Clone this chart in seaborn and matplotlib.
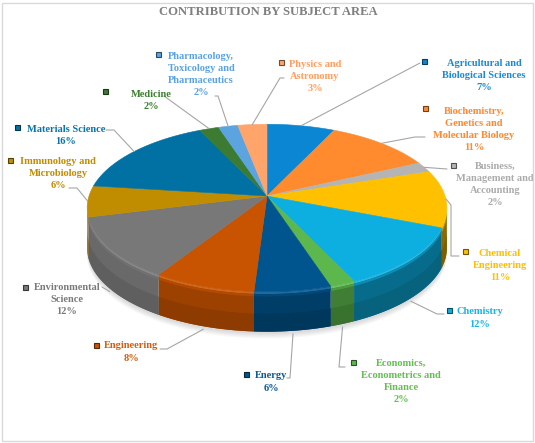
import numpy as np
import matplotlib
matplotlib.use("Agg")
import matplotlib.pyplot as plt
import seaborn as sns
from matplotlib.colors import to_rgb
from matplotlib.patches import Polygon, Rectangle

# data
subjects = ["Agricultural and\nBiological Sciences", "Biochemistry,\nGenetics and\nMolecular Biology",
            "Business,\nManagement and\nAccounting", "Chemical\nEngineering", "Chemistry",
            "Economics,\nEconometrics and\nFinance", "Energy", "Engineering", "Environmental\nScience",
            "Immunology and\nMicrobiology", "Materials Science", "Medicine",
            "Pharmacology,\nToxicology and\nPharmaceutics", "Physics and\nAstronomy"]
shares = [7, 11, 2, 11, 12, 2, 6, 8, 12, 6, 16, 2, 2, 3]
slice_colors = ["#0A86D2", "#FF8B2E", "#B4B4B4", "#FFC000", "#0CAFE0", "#5CB84C", "#00558F",
                "#C85300", "#787878", "#C08C00", "#0071A2", "#3C7B31", "#5CA4E0", "#FFA46A"]
text_colors = ["#1A8AD6", "#FF8A30", "#ABABAB", "#FFC000", "#17B4E6", "#66BE52", "#0A5A96",
               "#D0600F", "#7A7A7A", "#C18C00", "#0A74A8", "#3E8032", "#5BA3E0", "#FF9F5F"]

# label layout (centre x, first line y), key square, leader bend points
label_xy = [(484, 62), (474, 110), (495, 165), (500, 252), (480, 311), (401, 362), (271, 375),
            (131, 345), (67, 286), (58, 160), (66, 128), (151, 93), (201, 55), (315, 63)]
key_xy = [(424, 61), (425, 108), (453, 165), (465, 251), (449, 310), (353, 362), (246, 374),
          (96, 345), (25, 287), (10, 160), (17, 127), (105, 91), (158, 54), (281, 62)]
leader_bends = [[(420, 63)], [(415, 137), (425, 137)], [(447, 169)], [(451, 205), (451, 256), (459, 256)],
                [(437, 314), (444, 314)], [(339, 367), (345, 367)], [(290, 378), (287, 378)],
                [(167, 349), (160, 349)], [(102, 287)], [(77, 188), (69, 188)],
                [(114, 130), (106, 130)], [(164, 96)], [(218, 96), (215, 96)], [(280, 78), (284, 78)]]

sns.set_theme(style="white")
plt.rcParams["font.family"] = ["Liberation Serif", "DejaVu Serif"]

fig = plt.figure(figsize=(5.35, 4.43), dpi=100)
ax = fig.add_axes([0, 0, 1, 1])
ax.set_xlim(0, 535)
ax.set_ylim(443, 0)
ax.axis("off")
fig.patches.append(Rectangle((0.004, 0.004), 0.992, 0.99, transform=fig.transFigure,
                             fill=False, edgecolor="#D9D9D9", linewidth=1.0))

# 3D pie geometry
cx, cy, A, B, persp, H = 267, 196, 178, 82, 0.143, 40


def proj(deg):
    t = np.radians(deg)
    u, v = np.cos(t), np.sin(t)
    s = 1.0 / (1.0 + persp * v)
    return cx + A * u * s, cy - B * v * s


def shade(c, f):
    c = np.array(to_rgb(c))
    if f >= 1:
        return tuple(np.clip(c + (1 - c) * (f - 1), 0, 1))
    return tuple(c * f)


frac = np.array(shares) / np.sum(shares)
edges = 90 - 360 * np.concatenate([[0], np.cumsum(frac)])
front_lo, front_hi = -180 + np.degrees(np.arcsin(persp)), -np.degrees(np.arcsin(persp))

# soft shadow below the pie
for k in range(6):
    ts = np.linspace(front_lo - 10, front_hi + 10, 120)
    x, y = proj(ts)
    pts = np.column_stack([x, y + H + 2 + k])
    ax.add_patch(Polygon(np.vstack([pts, [[cx, cy + H]]]), closed=True,
                         facecolor="#000000", alpha=0.025, edgecolor="none", zorder=0))

# side walls: base wall per slice, then a rim highlight and a darker lower part on top
for i in range(len(shares)):
    hi = min(edges[i], front_hi)
    lo = max(edges[i + 1], front_lo)
    if hi <= lo:
        continue
    ts = np.linspace(hi, lo, int(np.ceil(hi - lo)) + 2)
    x, y = proj(ts)
    tt = ((hi + lo) / 2 - front_lo) / (front_hi - front_lo)
    base = 0.95 - 0.42 * tt
    layers = [(0.0, 1.0, base), (0.0, 0.06, 1.12), (0.06, 0.12, 0.5 * (1.0 + base)),
              (0.55, 1.0, base * 0.9)]
    for y0, y1, f in layers:
        top = np.column_stack([x, y + H * y0])
        bot = np.column_stack([x, y + H * y1])[::-1]
        col = shade(slice_colors[i], f)
        ax.add_patch(Polygon(np.vstack([top, bot]), closed=True, facecolor=col,
                             edgecolor="none", zorder=1))

# top face
for i in range(len(shares)):
    ts = np.linspace(edges[i], edges[i + 1], max(3, int(abs(edges[i] - edges[i + 1])) + 2))
    x, y = proj(ts)
    pts = np.vstack([[[cx, cy]], np.column_stack([x, y])])
    ax.add_patch(Polygon(pts, closed=True, facecolor=slice_colors[i], edgecolor=slice_colors[i],
                         linewidth=0.4, zorder=2))

# leader lines
for i in range(len(shares)):
    mid = (edges[i] + edges[i + 1]) / 2
    sx, sy = proj(mid)
    if front_lo < mid < front_hi:
        sy = sy + H + 3
    path = [(sx, sy)] + leader_bends[i]
    ax.plot([p[0] for p in path], [p[1] for p in path], color="#A6A6A6", linewidth=0.8, zorder=4)

# labels
for i in range(len(shares)):
    lines = subjects[i].split("\n") + [f"{shares[i]}%"]
    lx, ly = label_xy[i]
    for j, line in enumerate(lines):
        ax.text(lx, ly + 12.3 * j, line, ha="center", va="center_baseline", fontsize=7.5,
                fontweight="bold", color=text_colors[i], zorder=5)
    kx, ky = key_xy[i]
    ax.plot(kx, ky, marker="s", markersize=3.6, markerfacecolor=slice_colors[i],
            markeredgecolor=shade(slice_colors[i], 0.45), markeredgewidth=0.8, zorder=5)

ax.text(268, 12, "CONTRIBUTION BY SUBJECT AREA", ha="center", va="center", fontsize=9.1,
        fontweight="bold", color="#7F7F7F")

fig.savefig("out.png", dpi=100)
